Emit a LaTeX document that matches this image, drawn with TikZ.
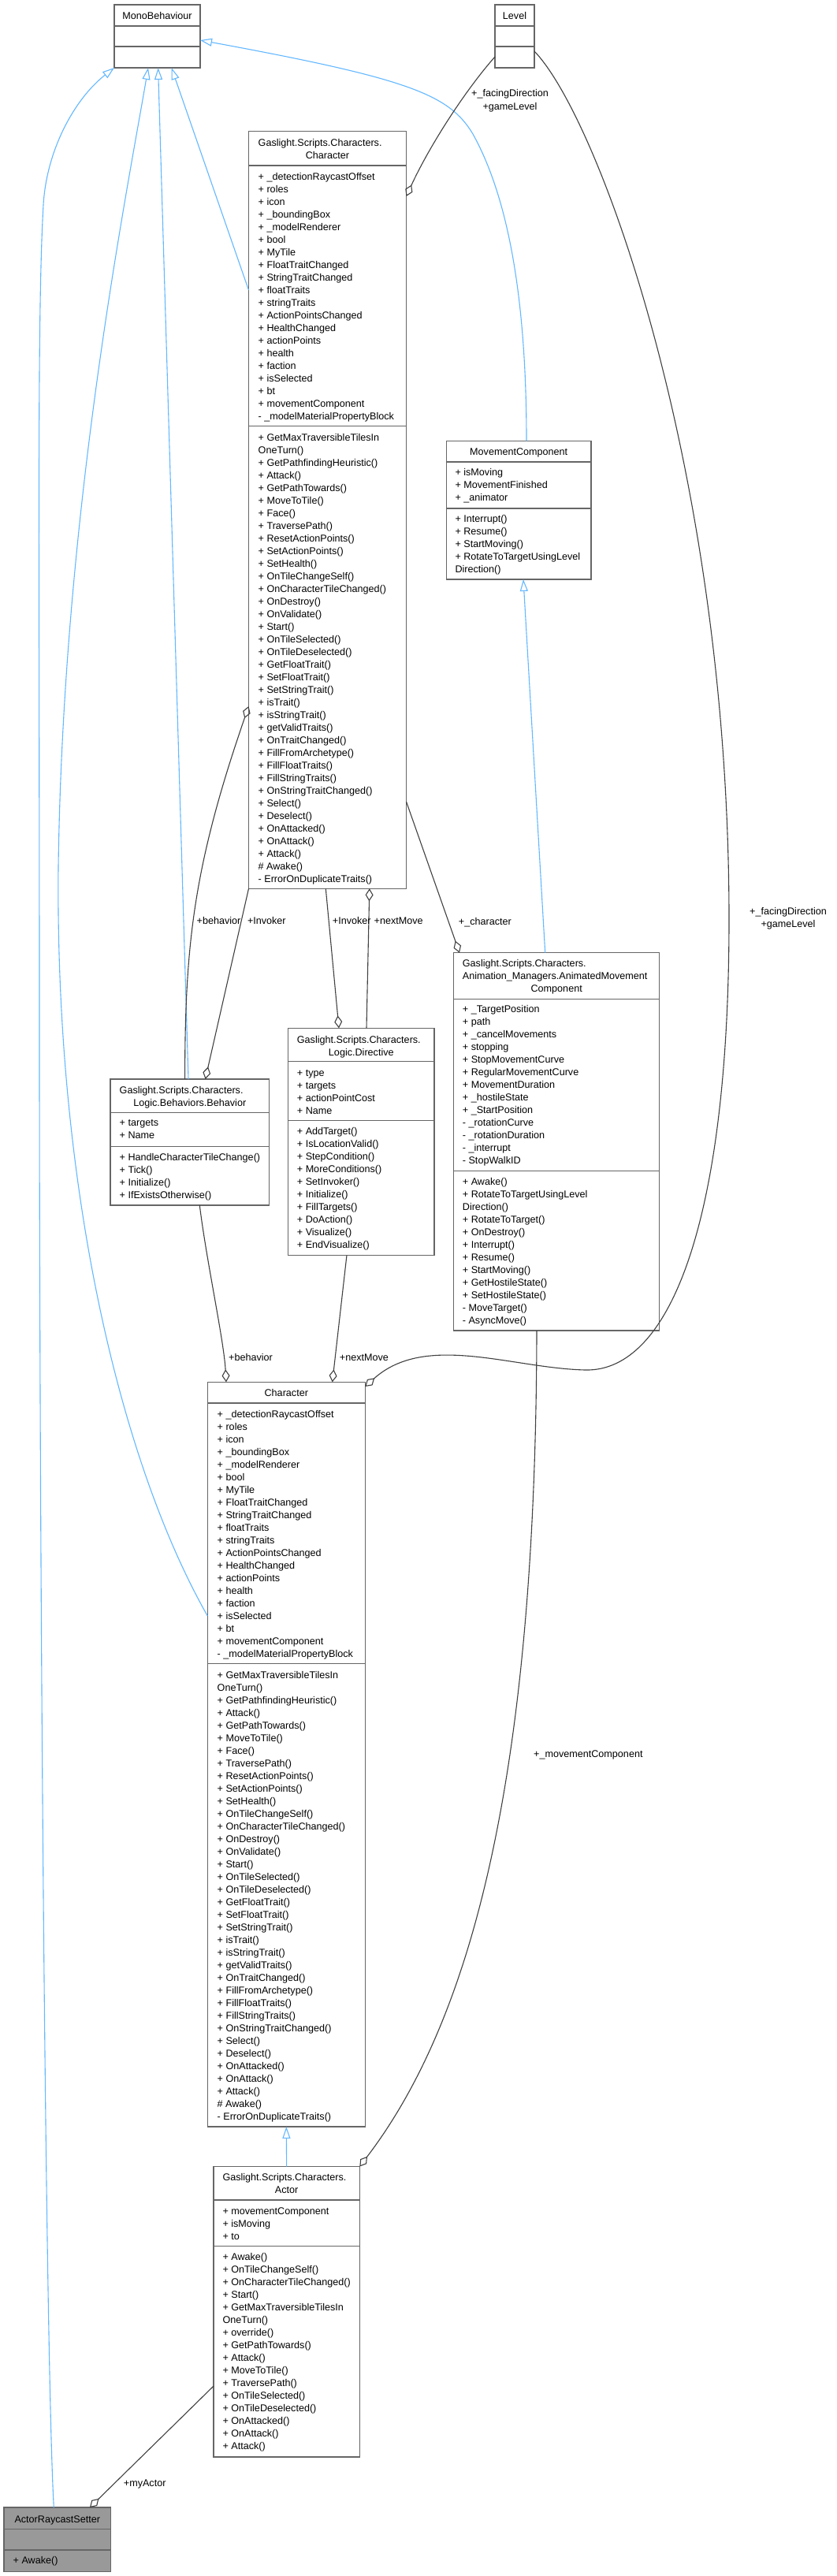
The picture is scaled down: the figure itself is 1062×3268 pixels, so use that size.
\documentclass[tikz,border=0pt]{standalone}
\usepackage{fontspec}
\setmainfont{Liberation Sans}
\usetikzlibrary{arrows.meta, positioning, calc}

\definecolor{boxline}{HTML}{666666}
\definecolor{boxgray}{HTML}{999999}
\definecolor{inhblue}{HTML}{63B8FF}
\definecolor{aggline}{HTML}{404040}

\newcommand{\chattr}{+ \_detectionRaycastOffset, + roles, + icon, + \_boundingBox, + \_modelRenderer, + bool, + MyTile, + FloatTraitChanged, + StringTraitChanged, + floatTraits, + stringTraits, + ActionPointsChanged, + HealthChanged, + actionPoints, + health, + faction, + isSelected, + bt, + movementComponent, - \_modelMaterialPropertyBlock}
\newcommand{\chmeth}{+ GetMaxTraversibleTilesIn, OneTurn(), + GetPathfindingHeuristic(), + Attack(), + GetPathTowards(), + MoveToTile(), + Face(), + TraversePath(), + ResetActionPoints(), + SetActionPoints(), + SetHealth(), + OnTileChangeSelf(), + OnCharacterTileChanged(), + OnDestroy(), + OnValidate(), + Start(), + OnTileSelected(), + OnTileDeselected(), + GetFloatTrait(), + SetFloatTrait(), + SetStringTrait(), + isTrait(), + isStringTrait(), + getValidTraits(), + OnTraitChanged(), + FillFromArchetype(), + FillFloatTraits(), + FillStringTraits(), + OnStringTraitChanged(), + Select(), + Deselect(), + OnAttacked(), + OnAttack(), + Attack(), \# Awake(), - ErrorOnDuplicateTraits()}

\begin{document}
\begin{tikzpicture}[x=1pt, y=-1pt,
    classbox/.style={draw=boxline, line width=1.3pt, fill=white, anchor=north west, inner sep=0pt, outer sep=0pt},
    compsep/.style={draw=boxline, line width=1.3pt},
    member/.style={anchor=base west, inner sep=0pt, font=\fontsize{12.6}{16}\selectfont},
    ctitle/.style={member, anchor=base},
    genedge/.style={draw=inhblue, line width=1.1pt, -{Triangle[open, length=15pt, width=10pt]}},
    aggedge/.style={draw=aggline, line width=1.1pt, -{Diamond[open, length=16pt, width=10pt]}}]

    \fill[white] (0,0) rectangle (1062,3268);
    \useasboundingbox (0,0) rectangle (1062,3268);

    % class boxes
    \node[classbox, minimum width=109pt, minimum height=80pt] (mono) at (145,6) {};
    \node[classbox, minimum width=50pt, minimum height=80pt] (level) at (628,6) {};
    \node[classbox, minimum width=200pt, minimum height=960.6pt] (chA) at (315.5,166.7) {};
    \node[classbox, minimum width=183.7pt, minimum height=175.7pt] (mc) at (566.3,559.3) {};
    \node[classbox, minimum width=201.7pt, minimum height=160pt] (beh) at (140,1369) {};
    \node[classbox, minimum width=185.3pt, minimum height=288pt] (dir) at (365.7,1304.3) {};
    \node[classbox, minimum width=261pt, minimum height=479.3pt] (amc) at (575.7,1208.7) {};
    \node[classbox, minimum width=200pt, minimum height=944.6pt] (chB) at (263.3,1753.3) {};
    \node[classbox, minimum width=185.3pt, minimum height=368.5pt] (act) at (271,2748.5) {};
    \node[classbox, fill=boxgray, minimum width=135.7pt, minimum height=81.3pt] (ars) at (5,3181) {};

    \draw[compsep] ([yshift=-27pt]mono.north west) -- ([yshift=-27pt]mono.north east);
    \draw[compsep] ([yshift=-53pt]mono.north west) -- ([yshift=-53pt]mono.north east);
    \draw[compsep] ([yshift=-27pt]level.north west) -- ([yshift=-27pt]level.north east);
    \draw[compsep] ([yshift=-53pt]level.north west) -- ([yshift=-53pt]level.north east);
    \draw[compsep] ([yshift=-43.3pt]chA.north west) -- ([yshift=-43.3pt]chA.north east);
    \draw[compsep] ([yshift=-374pt]chA.north west) -- ([yshift=-374pt]chA.north east);
    \draw[compsep] ([yshift=-26.7pt]mc.north west) -- ([yshift=-26.7pt]mc.north east);
    \draw[compsep] ([yshift=-85.7pt]mc.north west) -- ([yshift=-85.7pt]mc.north east);
    \draw[compsep] ([yshift=-42.7pt]beh.north west) -- ([yshift=-42.7pt]beh.north east);
    \draw[compsep] ([yshift=-85.3pt]beh.north west) -- ([yshift=-85.3pt]beh.north east);
    \draw[compsep] ([yshift=-42.4pt]dir.north west) -- ([yshift=-42.4pt]dir.north east);
    \draw[compsep] ([yshift=-117.4pt]dir.north west) -- ([yshift=-117.4pt]dir.north east);
    \draw[compsep] ([yshift=-58.5pt]amc.north west) -- ([yshift=-58.5pt]amc.north east);
    \draw[compsep] ([yshift=-277.1pt]amc.north west) -- ([yshift=-277.1pt]amc.north east);
    \draw[compsep] ([yshift=-26.7pt]chB.north west) -- ([yshift=-26.7pt]chB.north east);
    \draw[compsep] ([yshift=-357.4pt]chB.north west) -- ([yshift=-357.4pt]chB.north east);
    \draw[compsep] ([yshift=-42.4pt]act.north west) -- ([yshift=-42.4pt]act.north east);
    \draw[compsep] ([yshift=-101.2pt]act.north west) -- ([yshift=-101.2pt]act.north east);
    \draw[compsep] ([yshift=-27.3pt]ars.north west) -- ([yshift=-27.3pt]ars.north east);
    \draw[compsep] ([yshift=-54pt]ars.north west) -- ([yshift=-54pt]ars.north east);

    % titles
    \node[ctitle] (mono-t) at (199.5,24.5) {MonoBehaviour};
    \node[ctitle] (level-t) at (653,24.5) {Level};
    \node[member] (chA-t1) at (327.5,185.5) {Gaslight.Scripts.Characters.};
    \node[ctitle] (chA-t2) at (415.5,201.5) {Character};
    \node[ctitle] (mc-t) at (658.2,577.2) {MovementComponent};
    \node[member] (beh-t1) at (151.5,1387.5) {Gaslight.Scripts.Characters.};
    \node[ctitle] (beh-t2) at (240.8,1403.5) {Logic.Behaviors.Behavior};
    \node[member] (dir-t1) at (376.7,1323.5) {Gaslight.Scripts.Characters.};
    \node[ctitle] (dir-t2) at (458.3,1339.5) {Logic.Directive};
    \node[member] (amc-t1) at (586.7,1226.9) {Gaslight.Scripts.Characters.};
    \node[member] (amc-t2) at (586.7,1242.9) {Animation\_Managers.AnimatedMovement};
    \node[ctitle] (amc-t3) at (706.2,1258.9) {Component};
    \node[ctitle] (chB-t) at (363.3,1771.5) {Character};
    \node[member] (act-t1) at (282.3,2766.5) {Gaslight.Scripts.Characters.};
    \node[ctitle] (act-t2) at (363.6,2782.5) {Actor};
    \node[ctitle] (ars-t) at (72.8,3200.2) {ActorRaycastSetter};

    % members
    \foreach \s [count=\k from 0] in \chattr
        \node[member] (chA-a\k) at (327.5,228+16*\k) {\s};
    \foreach \s [count=\k from 0] in \chmeth
        \node[member] (chA-m\k) at (327.5,559+16*\k) {\s};
    \foreach \s [count=\k from 0] in {+ isMoving, + MovementFinished, + \_animator}
        \node[member] (mc-a\k) at (577.3,603.8+16*\k) {\s};
    \foreach \s [count=\k from 0] in {+ Interrupt(), + Resume(), + StartMoving(), + RotateToTargetUsingLevel, Direction()}
        \node[member] (mc-m\k) at (577.3,662.5+16*\k) {\s};
    \foreach \s [count=\k from 0] in {+ targets, + Name}
        \node[member] (beh-a\k) at (151.5,1428.8+16*\k) {\s};
    \foreach \s [count=\k from 0] in {+ HandleCharacterTileChange(), + Tick(), + Initialize(), + IfExistsOtherwise()}
        \node[member] (beh-m\k) at (151.5,1472.2+16*\k) {\s};
    \foreach \s [count=\k from 0] in {+ type, + targets, + actionPointCost, + Name}
        \node[member] (dir-a\k) at (376.7,1365.2+16*\k) {\s};
    \foreach \s [count=\k from 0] in {+ AddTarget(), + IsLocationValid(), + StepCondition(), + MoreConditions(), + SetInvoker(), + Initialize(), + FillTargets(), + DoAction(), + Visualize(), + EndVisualize()}
        \node[member] (dir-m\k) at (376.7,1439.8+16*\k) {\s};
    \foreach \s [count=\k from 0] in {+ \_TargetPosition, + path, + \_cancelMovements, + stopping, + StopMovementCurve, + RegularMovementCurve, + MovementDuration, + \_hostileState, + \_StartPosition, - \_rotationCurve, - \_rotationDuration, - \_interrupt, - StopWalkID}
        \node[member] (amc-a\k) at (586.7,1284.6+16*\k) {\s};
    \foreach \s [count=\k from 0] in {+ Awake(), + RotateToTargetUsingLevel, Direction(), + RotateToTarget(), + OnDestroy(), + Interrupt(), + Resume(), + StartMoving(), + GetHostileState(), + SetHostileState(), - MoveTarget(), - AsyncMove()}
        \node[member] (amc-m\k) at (586.7,1503.7+16*\k) {\s};
    \foreach \s [count=\k from 0] in \chattr
        \node[member] (chB-a\k) at (275.5,1798+16*\k) {\s};
    \foreach \s [count=\k from 0] in \chmeth
        \node[member] (chB-m\k) at (275.5,2129+16*\k) {\s};
    \foreach \s [count=\k from 0] in {+ movementComponent, + isMoving, + to}
        \node[member] (act-a\k) at (282.3,2809.1+16*\k) {\s};
    \foreach \s [count=\k from 0] in {+ Awake(), + OnTileChangeSelf(), + OnCharacterTileChanged(), + Start(), + GetMaxTraversibleTilesIn, OneTurn(), + override(), + GetPathTowards(), + Attack(), + MoveToTile(), + TraversePath(), + OnTileSelected(), + OnTileDeselected(), + OnAttacked(), + OnAttack(), + Attack()}
        \node[member] (act-m\k) at (282.3,2867.5+16*\k) {\s};
    \node[member] (ars-m0) at (16.5,3252.5) {+ Awake()};

    % generalisation
    \draw[genedge] ([xshift=63.3pt]ars.north west) .. controls (58,3000) and (50,2000) .. (50,1300)
        .. controls (50,700) and (47,400) .. (55,260) .. controls (59,190) and (95,125) .. (mono.south west);
    \draw[genedge] ([yshift=-296.7pt]chB.north west) .. controls (150,1850) and (70,1500) .. (74,1100)
        .. controls (80,650) and (160,250) .. ([xshift=43pt]mono.south west);
    \draw[genedge] ([xshift=99pt]beh.north west) -- ([xshift=55.6pt]mono.south west);
    \draw[genedge] ([yshift=-201.3pt]chA.north west) -- ([xshift=72.6pt]mono.south west);
    \draw[genedge] ([xshift=101.7pt]mc.north west) .. controls (668,400) and (650,260) .. (600,170)
        .. controls (570,120) and (520,100) .. ([yshift=-45pt]mono.north east);
    \draw[genedge] ([xshift=116pt]amc.north west) -- ([xshift=97.7pt]mc.south west);
    \draw[genedge] (act.north) -- (chB.south);

    % aggregation
    \draw[aggedge] ([yshift=-66pt]level.north west) .. controls (590,115) and (545,185) .. ([yshift=-82.3pt]chA.north east);
    \draw[aggedge] ([yshift=-59pt]level.north east) .. controls (760,150) and (925,600) .. (925,1166)
        .. controls (925,1550) and (850,1740) .. (743,1738) .. controls (650,1736) and (540,1690) .. ([yshift=-5.7pt]chB.north east);
    \draw[aggedge] ([xshift=113.3pt]beh.south west) .. controls (262,1600) and (284,1700) .. ([xshift=23.7pt]chB.north west);
    \draw[aggedge] ([xshift=74.3pt]dir.south west) -- ([xshift=158.4pt]chB.north west);
    \draw[aggedge] ([xshift=94.6pt]beh.north west) .. controls (234.6,1200) and (245,1100) .. ([yshift=-729.3pt]chA.north west);
    \draw[aggedge] (chA.south west) -- ([xshift=120.5pt]beh.north west);
    \draw[aggedge] ([xshift=97.8pt]chA.south west) -- ([xshift=64.3pt]dir.north west);
    \draw[aggedge] ([xshift=99.3pt]dir.north west) -- ([xshift=153.3pt]chA.south west);
    \draw[aggedge] ([yshift=-850.3pt]chA.north east) -- ([xshift=7.3pt]amc.north west);
    \draw[aggedge] ([xshift=105.3pt]amc.south west) .. controls (680,2250) and (600,2560) .. (act.north east);
    \draw[aggedge] ([yshift=-278.5pt]act.north west) -- ([xshift=109pt]ars.north west);

    % edge labels
    \node[ctitle] (lvA1) at (647,122.5) {+\_facingDirection};
    \node[ctitle] (lvA2) at (647,139.5) {+gameLevel};
    \node[ctitle] (lvB1) at (1000,1160.5) {+\_facingDirection};
    \node[ctitle] (lvB2) at (1000,1176.5) {+gameLevel};
    \node[member] (lbBehA) at (249.5,1172.5) {+behavior};
    \node[member] (lbInvA) at (313.8,1172.5) {+Invoker};
    \node[member] (lbInvB) at (421.7,1172.5) {+Invoker};
    \node[member] (lbNextA) at (474.5,1172.5) {+nextMove};
    \node[member] (lbChar) at (581.7,1173.3) {+\_character};
    \node[member] (lbMove) at (677,2229.5) {+\_movementComponent};
    \node[member] (lbBehB) at (290,1726.5) {+behavior};
    \node[member] (lbNextB) at (430.7,1726.5) {+nextMove};
    \node[member] (lbActor) at (156.7,3154.5) {+myActor};
\end{tikzpicture}
\end{document}
